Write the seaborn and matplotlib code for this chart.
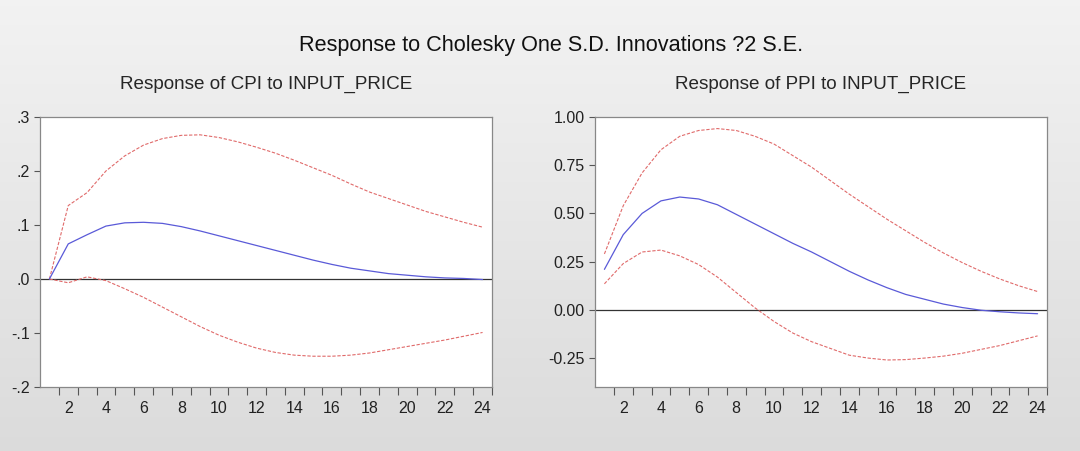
"""Impulse responses of CPI and PPI to an INPUT_PRICE shock (EViews style)."""

import matplotlib
matplotlib.use("Agg")
import matplotlib.pyplot as plt
import numpy as np
import seaborn as sns
from matplotlib.ticker import FixedLocator, FuncFormatter

periods = list(range(1, 25))

cpi_resp = [0.0, 0.065, 0.082, 0.098, 0.104, 0.105, 0.103, 0.097, 0.089, 0.080, 0.071, 0.062,
            0.053, 0.044, 0.035, 0.027, 0.020, 0.015, 0.010, 0.007, 0.004, 0.002, 0.001, -0.001]
cpi_upper = [0.0, 0.136, 0.160, 0.200, 0.228, 0.248, 0.260, 0.266, 0.267, 0.262, 0.254, 0.244,
             0.233, 0.220, 0.206, 0.192, 0.176, 0.161, 0.149, 0.137, 0.125, 0.115, 0.105, 0.096]
cpi_lower = [0.0, -0.007, 0.004, -0.003, -0.018, -0.034, -0.052, -0.070, -0.088, -0.104, -0.117, -0.128,
             -0.136, -0.141, -0.143, -0.143, -0.141, -0.137, -0.131, -0.125, -0.119, -0.113, -0.106, -0.099]

ppi_resp = [0.21, 0.39, 0.50, 0.565, 0.585, 0.575, 0.545, 0.495, 0.445, 0.395, 0.345, 0.30,
            0.25, 0.20, 0.155, 0.115, 0.08, 0.055, 0.03, 0.012, -0.002, -0.01, -0.016, -0.02]
ppi_upper = [0.29, 0.54, 0.71, 0.83, 0.90, 0.93, 0.94, 0.93, 0.90, 0.86, 0.80, 0.74,
             0.67, 0.60, 0.535, 0.47, 0.41, 0.35, 0.295, 0.245, 0.20, 0.16, 0.125, 0.095]
ppi_lower = [0.135, 0.24, 0.30, 0.31, 0.28, 0.235, 0.17, 0.09, 0.01, -0.06, -0.12, -0.165,
             -0.20, -0.235, -0.25, -0.26, -0.258, -0.25, -0.24, -0.225, -0.205, -0.185, -0.16, -0.135]

main_title = "Response to Cholesky One S.D. Innovations ?2 S.E."
panel_titles = ["Response of CPI to INPUT_PRICE", "Response of PPI to INPUT_PRICE"]
cpi_yticks = [-0.2, -0.1, 0.0, 0.1, 0.2, 0.3]
ppi_yticks = [-0.25, 0.0, 0.25, 0.5, 0.75, 1.0]

sns.set_style("white")
plt.rcParams["font.family"] = ["Liberation Sans", "DejaVu Sans"]

BLUE = "#5a5ad8"
RED = "#e06a6a"


def eviews_fmt(v, _pos):
    s = f"{v:.1f}"
    return s.replace("0.", ".", 1)


def draw_panel(ax, resp, upper, lower, yticks, ylim, fmt, title):
    ax.axhline(0, color="#333333", lw=0.9, zorder=1)
    sns.lineplot(x=periods, y=upper, ax=ax, color=RED, lw=0.8, zorder=2).lines[-1].set_dashes((3, 1.5))
    sns.lineplot(x=periods, y=lower, ax=ax, color=RED, lw=0.8, zorder=2).lines[-1].set_dashes((3, 1.5))
    sns.lineplot(x=periods, y=resp, ax=ax, color=BLUE, lw=0.9, zorder=3)
    ax.set_xlim(0.5, 24.5)
    ax.set_ylim(*ylim)
    ax.set_facecolor("white")
    ax.xaxis.set_major_locator(FixedLocator(list(range(2, 25, 2))))
    ax.xaxis.set_minor_locator(FixedLocator(list(np.arange(1.5, 24.6, 1.0))))
    ax.tick_params(axis="x", which="both", bottom=True)
    ax.tick_params(axis="x", which="major", length=0, pad=10, labelsize=11.5, labelcolor="#222222")
    ax.tick_params(axis="x", which="minor", length=6, direction="out", color="#555555", width=0.8)
    ax.set_yticks(yticks)
    ax.yaxis.set_major_formatter(fmt)
    ax.tick_params(axis="y", left=True, length=4, direction="out", color="#555555", width=0.8,
                   labelsize=11.5, labelcolor="#222222")
    for sp in ax.spines.values():
        sp.set_color("#888888")
        sp.set_linewidth(0.9)
    ax.set_title(title, fontsize=13.6, pad=20)
    ax.set_xlabel("")
    ax.set_ylabel("")


fig = plt.figure(figsize=(10.8, 4.51), dpi=100)

# light grey vertical gradient behind everything
bg = fig.add_axes([0, 0, 1, 1], zorder=-10)
grad = np.linspace(0.95, 0.86, 256).reshape(-1, 1)
bg.imshow(np.dstack([grad, grad, grad]), aspect="auto", extent=[0, 1, 0, 1])
bg.axis("off")

ax1 = fig.add_axes([40 / 1080, 1 - 387 / 451, 452 / 1080, 270 / 451])
ax2 = fig.add_axes([595 / 1080, 1 - 387 / 451, 452 / 1080, 270 / 451])

draw_panel(ax1, cpi_resp, cpi_upper, cpi_lower, cpi_yticks, (-0.2, 0.3),
           FuncFormatter(eviews_fmt), panel_titles[0])
draw_panel(ax2, ppi_resp, ppi_upper, ppi_lower, ppi_yticks, (-0.4, 1.0),
           FuncFormatter(lambda v, _p: f"{v:.2f}"), panel_titles[1])

fig.text(551 / 1080, 1 - 46 / 451, main_title, ha="center", va="center", fontsize=15.6, color="#111111")

fig.savefig("out.png", dpi=100)
plt.close(fig)
